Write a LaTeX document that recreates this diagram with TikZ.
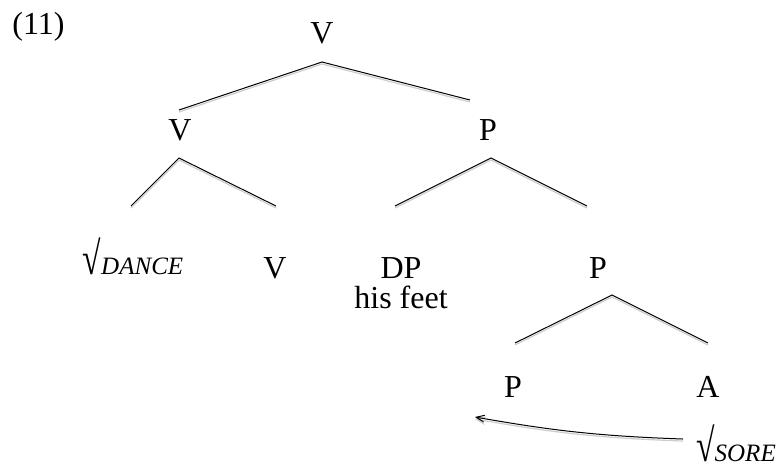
\documentclass[tikz,border=0pt]{standalone}
\usepackage{fontspec}
\setmainfont{Liberation Serif}
\usepackage{tikz}
\usetikzlibrary{arrows}
\definecolor{shadowgray}{RGB}{205,205,205}
\newcommand{\rootlbl}[1]{\scalebox{1.05}[1.45]{√}{\fontsize{12.5}{13}\selectfont\itshape #1}}

\begin{document}
\begin{tikzpicture}[x=0.5pt,y=0.5pt,lbl/.style={inner sep=0pt,font=\fontsize{16}{17}\selectfont},br/.style={preaction={draw=shadowgray,line width=0.6pt,transform canvas={yshift=-1pt}},draw=black,line width=0.5pt},arr/.style={br,->,>=angle 45}]
\useasboundingbox (0,0) rectangle (779,-468);
\node[lbl,anchor=west](ex) at (12,-27){(11)};
\node[lbl](vtop) at (322,-33){V}; \node[lbl](vl) at (180,-130){V}; \node[lbl](pr) at (488,-130){P};
\node[lbl,anchor=base](dance) at (133,-274){\rootlbl{DANCE}}; \node[lbl](vv) at (275,-268){V};
\node[lbl](dp) at (401,-268){DP}; \node[lbl](feet) at (401,-297){his feet}; \node[lbl](p2) at (598,-268){P};
\node[lbl](p3) at (513,-387){P}; \node[lbl](a) at (708,-387){A}; \node[lbl,anchor=base](sore) at (736,-461){\rootlbl{SORE}};
% branches
\draw[br]([xshift=-0.5pt,yshift=10pt]vl.center)--([yshift=-14.5pt]vtop.center)--([xshift=-9pt,yshift=15pt]pr.center);
\draw[br]([xshift=-1pt,yshift=34pt]dance.base)--([xshift=-0.5pt,yshift=-14pt]vl.center)--([xshift=0.5pt,yshift=31pt]vv.center);
\draw[br]([xshift=-3pt,yshift=31pt]dp.center)--([xshift=1.5pt,yshift=-14pt]pr.center)--([xshift=-5.5pt,yshift=31pt]p2.center);
\draw[br]([xshift=1pt,yshift=22pt]p3.center)--([xshift=7pt,yshift=-13.5pt]p2.center)--([yshift=22pt]a.center);
% movement
\draw[arr]([xshift=-26.5pt,yshift=11pt]sore.base) to[bend left=4] ([xshift=-19pt,yshift=-15pt]p3.center);
\end{tikzpicture}
\end{document}
